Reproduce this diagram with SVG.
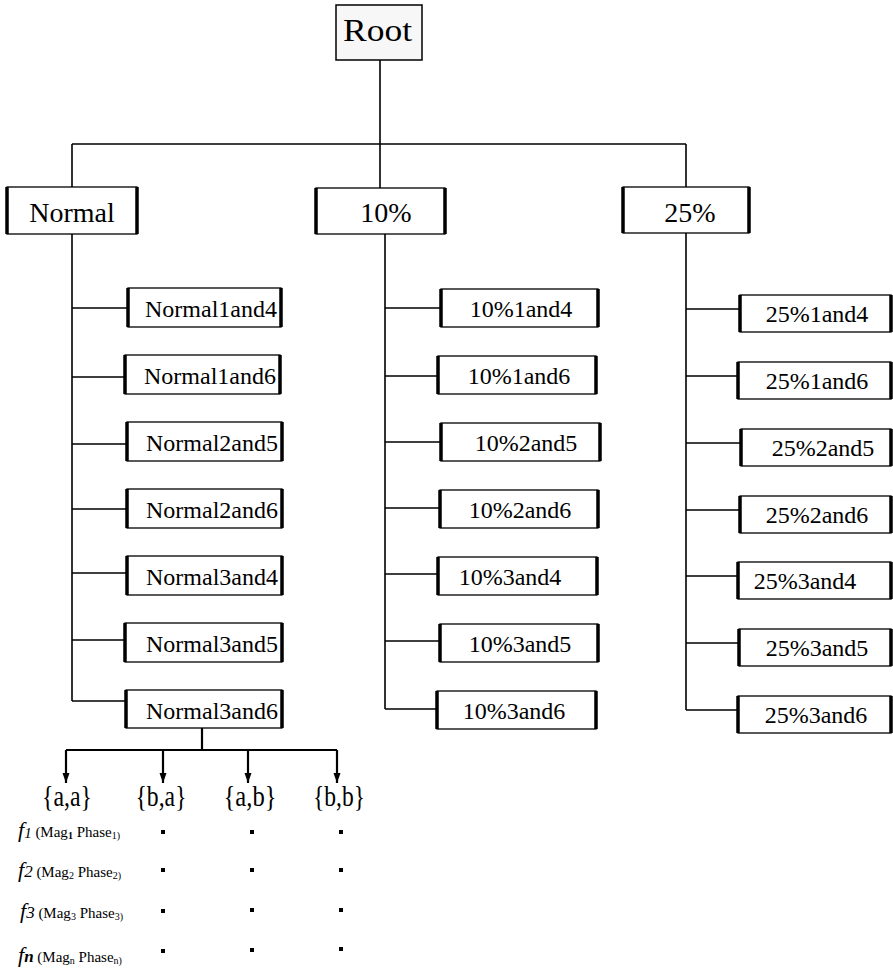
<svg xmlns="http://www.w3.org/2000/svg" width="893" height="969" viewBox="0 0 893 969" font-family="'Liberation Serif', Tinos, 'DejaVu Serif', serif">
<style>
.box{fill:#fff;stroke:#000;stroke-width:1.3}
.side{stroke:#000;stroke-width:3.5}
.root{fill:#f7f7f7;stroke:#000;stroke-width:1.5}
.ln{stroke:#000;stroke-width:1.6;fill:none}
.ln2{stroke:#000;stroke-width:2.2;fill:none}
text{font-family:'Liberation Serif', Tinos, 'DejaVu Serif', serif;fill:#000}
.big{font-size:28px;text-anchor:middle}
.cl{font-size:24px}
.mid{text-anchor:middle}
.end{text-anchor:end}
.br{font-size:29px;text-anchor:middle}
.f{font-size:15px}
.dot{fill:#000}
</style>
<defs>
<marker id="ah" markerUnits="userSpaceOnUse" markerWidth="10" markerHeight="10" viewBox="0 0 10 10" refX="10" refY="5" orient="auto">
<path d="M0,1.5 L10,5 L0,8.5 Z" fill="#000"/>
</marker>
</defs>

<g id="connectors">
<path class="ln" d="M380,60 V188 M72,144 H686 M72,144 V187 M686,144 V187"/>
<path class="ln" d="M72,234 V701 M72,308 H128 M72,377 H125 M72,444 H127 M72,509 H127 M72,573 H127 M72,640 H125 M72,701 H126"/>
<path class="ln" d="M385,234 V709 M385,308 H441 M385,376 H438 M385,442 H441 M385,508 H440 M385,574 H438 M385,641 H440 M385,709 H437"/>
<path class="ln" d="M686,233 V710 M686,309 H740 M686,376 H738 M686,443 H741 M686,510 H740 M686,576 H738 M686,643 H739 M686,710 H738"/>
<path class="ln2" d="M202,728 V750 M66,750 H337"/>
<line class="ln2" x1="66" y1="750" x2="66" y2="783" marker-end="url(#ah)"/>
<line class="ln2" x1="163" y1="750" x2="163" y2="783" marker-end="url(#ah)"/>
<line class="ln2" x1="248" y1="750" x2="248" y2="783" marker-end="url(#ah)"/>
<line class="ln2" x1="337" y1="750" x2="337" y2="783" marker-end="url(#ah)"/>
</g>

<g id="root"><rect class="root" x="336" y="5" width="86" height="55"/><text x="377.5" y="41" font-size="32" text-anchor="middle" textLength="69" lengthAdjust="spacingAndGlyphs">Root</text></g>

<g id="normal"><rect class="box" x="7" y="187" width="130" height="47"/><path class="side" d="M7,187V234M137,187V234"/><text class="big" x="72" y="222">Normal</text></g>
<g id="p10"><rect class="box" x="316" y="188" width="129" height="46"/><path class="side" d="M316,188V234M445,188V234"/><text class="big" x="386" y="222">10%</text></g>
<g id="p25"><rect class="box" x="623" y="187" width="126" height="46"/><path class="side" d="M623,187V233M749,187V233"/><text class="big" x="690" y="222">25%</text></g>

<g id="n14"><rect class="box" x="128" y="288" width="153" height="39"/><path class="side" d="M128,288V327M281,288V327"/><text class="cl end" x="277" y="317">Normal1and4</text></g>
<g id="n16"><rect class="box" x="125" y="355" width="155" height="39"/><path class="side" d="M125,355V394M280,355V394"/><text class="cl end" x="276" y="384">Normal1and6</text></g>
<g id="n25"><rect class="box" x="127" y="422" width="155" height="39"/><path class="side" d="M127,422V461M282,422V461"/><text class="cl end" x="278" y="451">Normal2and5</text></g>
<g id="n26"><rect class="box" x="127" y="489" width="155" height="39"/><path class="side" d="M127,489V528M282,489V528"/><text class="cl end" x="278" y="518">Normal2and6</text></g>
<g id="n34"><rect class="box" x="127" y="556" width="155" height="39"/><path class="side" d="M127,556V595M282,556V595"/><text class="cl end" x="278" y="585">Normal3and4</text></g>
<g id="n35"><rect class="box" x="125" y="623" width="157" height="39"/><path class="side" d="M125,623V662M282,623V662"/><text class="cl end" x="278" y="652">Normal3and5</text></g>
<g id="n36"><rect class="box" x="126" y="690" width="156" height="38"/><path class="side" d="M126,690V728M282,690V728"/><text class="cl end" x="278" y="719">Normal3and6</text></g>

<g id="t14"><rect class="box" x="441" y="289" width="157" height="38"/><path class="side" d="M441,289V327M598,289V327"/><text class="cl mid" x="521" y="317">10%1and4</text></g>
<g id="t16"><rect class="box" x="438" y="356" width="158" height="38"/><path class="side" d="M438,356V394M596,356V394"/><text class="cl mid" x="519" y="384">10%1and6</text></g>
<g id="t25"><rect class="box" x="441" y="423" width="159" height="38"/><path class="side" d="M441,423V461M600,423V461"/><text class="cl mid" x="526" y="451">10%2and5</text></g>
<g id="t26"><rect class="box" x="440" y="490" width="158" height="38"/><path class="side" d="M440,490V528M598,490V528"/><text class="cl mid" x="520" y="518">10%2and6</text></g>
<g id="t34"><rect class="box" x="438" y="557" width="159" height="38"/><path class="side" d="M438,557V595M597,557V595"/><text class="cl mid" x="510" y="585">10%3and4</text></g>
<g id="t35"><rect class="box" x="440" y="624" width="158" height="38"/><path class="side" d="M440,624V662M598,624V662"/><text class="cl mid" x="520" y="652">10%3and5</text></g>
<g id="t36"><rect class="box" x="437" y="691" width="159" height="38"/><path class="side" d="M437,691V729M596,691V729"/><text class="cl mid" x="514" y="719">10%3and6</text></g>

<g id="q14"><rect class="box" x="740" y="295" width="151" height="37"/><path class="side" d="M740,295V332M891,295V332"/><text class="cl mid" x="817" y="322">25%1and4</text></g>
<g id="q16"><rect class="box" x="738" y="362" width="153" height="37"/><path class="side" d="M738,362V399M891,362V399"/><text class="cl mid" x="817" y="389">25%1and6</text></g>
<g id="q25"><rect class="box" x="741" y="429" width="150" height="37"/><path class="side" d="M741,429V466M891,429V466"/><text class="cl mid" x="823" y="456">25%2and5</text></g>
<g id="q26"><rect class="box" x="740" y="496" width="151" height="37"/><path class="side" d="M740,496V533M891,496V533"/><text class="cl mid" x="817" y="523">25%2and6</text></g>
<g id="q34"><rect class="box" x="738" y="562" width="153" height="37"/><path class="side" d="M738,562V599M891,562V599"/><text class="cl mid" x="805" y="589">25%3and4</text></g>
<g id="q35"><rect class="box" x="739" y="629" width="152" height="37"/><path class="side" d="M739,629V666M891,629V666"/><text class="cl mid" x="817" y="656">25%3and5</text></g>
<g id="q36"><rect class="box" x="738" y="696" width="153" height="37"/><path class="side" d="M738,696V733M891,696V733"/><text class="cl mid" x="816" y="723">25%3and6</text></g>

<g id="leaves">
<text class="br" x="67" y="806" textLength="50" lengthAdjust="spacingAndGlyphs">{a,a}</text>
<text class="br" x="161" y="806" textLength="51" lengthAdjust="spacingAndGlyphs">{b,a}</text>
<text class="br" x="250" y="806" textLength="53" lengthAdjust="spacingAndGlyphs">{a,b}</text>
<text class="br" x="339" y="806" textLength="52" lengthAdjust="spacingAndGlyphs">{b,b}</text>
</g>

<g id="features">
<text class="f" x="18" y="837"><tspan font-style="italic" font-size="22">f</tspan><tspan font-style="italic" font-size="15" dy="1">1</tspan><tspan dy="-1"> (Mag</tspan><tspan font-size="10" dy="2" font-weight="bold">1</tspan><tspan dy="-2"> Phase</tspan><tspan font-size="10" dy="2">1)</tspan></text>
<text class="f" x="18" y="877"><tspan font-style="italic" font-size="22">f</tspan><tspan font-style="italic" font-size="17">2</tspan><tspan> (Mag</tspan><tspan font-size="10" dy="2">2</tspan><tspan dy="-2"> Phase</tspan><tspan font-size="10" dy="2">2)</tspan></text>
<text class="f" x="20" y="918"><tspan font-style="italic" font-size="22">f</tspan><tspan font-style="italic" font-size="17">3</tspan><tspan> (Mag</tspan><tspan font-size="10" dy="2">3</tspan><tspan dy="-2"> Phase</tspan><tspan font-size="10" dy="2">3)</tspan></text>
<text class="f" x="18" y="962"><tspan font-style="italic" font-size="22">f</tspan><tspan font-style="italic" font-weight="bold" font-size="17">n</tspan><tspan> (Mag</tspan><tspan font-size="10" dy="2">n</tspan><tspan dy="-2"> Phase</tspan><tspan font-size="10" dy="2">n)</tspan></text>
<rect class="dot" x="161" y="830" width="4" height="4"/><rect class="dot" x="250" y="830" width="4" height="4"/><rect class="dot" x="339" y="830" width="4" height="4"/>
<rect class="dot" x="161" y="868" width="4" height="4"/><rect class="dot" x="250" y="868" width="4" height="4"/><rect class="dot" x="339" y="868" width="4" height="4"/>
<rect class="dot" x="161" y="909" width="4" height="4"/><rect class="dot" x="250" y="908" width="4" height="4"/><rect class="dot" x="339" y="908" width="4" height="4"/>
<rect class="dot" x="161" y="949" width="4" height="4"/><rect class="dot" x="250" y="948" width="4" height="4"/><rect class="dot" x="339" y="947" width="4" height="4"/>
</g>
</svg>
